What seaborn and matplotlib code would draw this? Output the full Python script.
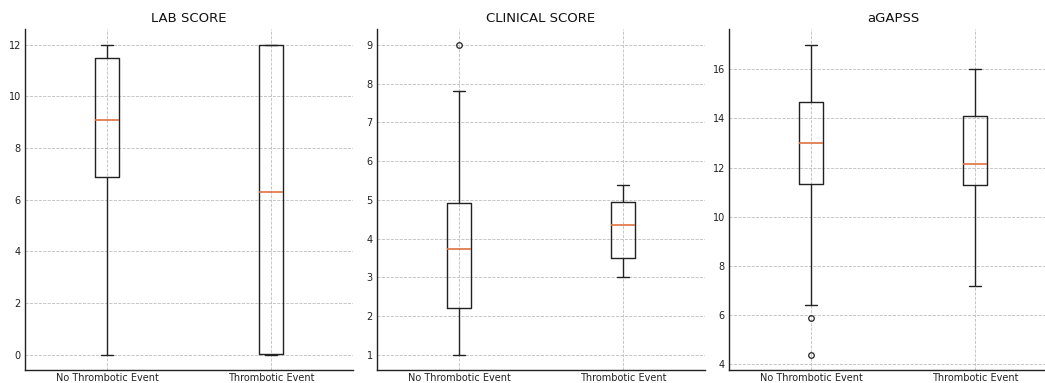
import matplotlib
matplotlib.use("Agg")
import matplotlib.pyplot as plt
import seaborn as sns
import pandas as pd
from matplotlib.ticker import MultipleLocator

# ---- data (values chosen so the box statistics match the reference) ----
categories = ["No Thrombotic Event", "Thrombotic Event"]
titles = ["LAB SCORE", "CLINICAL SCORE", "aGAPSS"]

lab_no = [0.0, 6.87, 9.07, 11.48, 12.0]
lab_yes = [0.0, 0.05, 6.32, 12.0, 12.0]

clin_no = [1.0, 2.22, 2.22, 3.72, 3.72, 4.92, 4.92, 7.82, 9.0]
clin_yes = [3.0, 3.51, 4.35, 4.95, 5.39]

agapss_no = [4.37, 5.86, 6.41, 11.33, 11.33, 13.0, 13.0, 13.0, 14.68, 14.68, 17.0, 17.0, 17.0]
agapss_yes = [7.19, 11.27, 12.15, 14.09, 16.0]

panels = [(lab_no, lab_yes), (clin_no, clin_yes), (agapss_no, agapss_yes)]
ytick_steps = [2, 1, 2]

W, H = 1045, 383
fig = plt.figure(figsize=(W / 100, H / 100), dpi=100)
sns.set_style("white")
plt.rcParams["font.family"] = ["DejaVu Sans"]

lefts_px = [25, 377, 729]
ax_w_px = 328
top_px, bottom_px = 29.3, 370.3

line_c = "#222222"
grid_c = "#bdbdbd"
for i, (title, (g_no, g_yes)) in enumerate(zip(titles, panels)):
    ax = fig.add_axes([lefts_px[i] / W, (H - bottom_px) / H,
                       ax_w_px / W, (bottom_px - top_px) / H])
    df = pd.DataFrame({
        "group": [categories[0]] * len(g_no) + [categories[1]] * len(g_yes),
        "value": g_no + g_yes,
    })
    sns.boxplot(data=df, x="group", y="value", order=categories, ax=ax,
                width=0.146, fill=False, color=line_c, linewidth=1.0,
                medianprops={"color": "#e07040", "linewidth": 1.2},
                flierprops={"marker": "o", "markersize": 4,
                            "markerfacecolor": "none",
                            "markeredgecolor": line_c, "markeredgewidth": 0.9})
    ax.set_axisbelow(True)
    ax.grid(True, axis="both", linestyle="--", color=grid_c, linewidth=0.6)
    ax.xaxis.grid(True, linestyle="--", color=grid_c, linewidth=0.6)
    ax.set_xlim(-0.5, 1.5)
    ax.set_xlabel("")
    ax.set_ylabel("")
    ax.set_title(title, fontsize=9.5, color="#111111", pad=5)
    ax.yaxis.set_major_locator(MultipleLocator(ytick_steps[i]))
    ax.tick_params(axis="both", length=0, labelsize=7, colors="#222222", pad=3)
    ax.tick_params(axis="x", pad=2)
    for s in ["top", "right"]:
        ax.spines[s].set_visible(False)
    for s in ["left", "bottom"]:
        ax.spines[s].set_color("#222222")
        ax.spines[s].set_linewidth(1.0)

fig.savefig("out.png", dpi=100)
